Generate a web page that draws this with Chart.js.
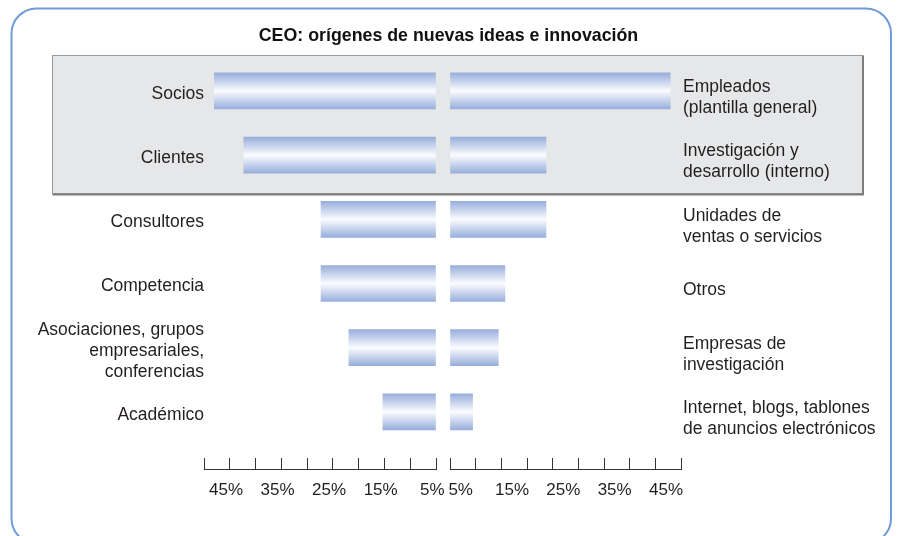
<!DOCTYPE html>
<html>
<head>
<meta charset="utf-8">
<script src="https://cdn.jsdelivr.net/npm/chart.js@4.4.1/dist/chart.umd.min.js"></script>
<style>
  html, body { margin: 0; padding: 0; background: #ffffff; }
  canvas { display: block; }
</style>
</head>
<body>
<canvas id="chart" width="897" height="536"></canvas>
<script>
// ---------- DATA ----------
const chartTitle = 'CEO: orígenes de nuevas ideas e innovación';
const leftCategories = [
  ['Socios'],
  ['Clientes'],
  ['Consultores'],
  ['Competencia'],
  ['Asociaciones, grupos', 'empresariales,', 'conferencias'],
  ['Académico']
];
const rightCategories = [
  ['Empleados', '(plantilla general)'],
  ['Investigación y', 'desarrollo (interno)'],
  ['Unidades de', 'ventas o servicios'],
  ['Otros'],
  ['Empresas de', 'investigación'],
  ['Internet, blogs, tablones', 'de anuncios electrónicos']
];
const leftValues = [43, 37.3, 22.3, 22.3, 16.9, 10.3];   // % (left side)
const rightValues = [42.9, 18.7, 18.7, 10.7, 9.4, 4.4];  // % (right side)
const tickLabelValues = [5, 15, 25, 35, 45];
const highlightedRows = [0, 1];

// ---------- STYLE ----------
const FONT = "'Liberation Sans', Arial, Helvetica, sans-serif";
const TEXT = '#231f20';
Chart.defaults.font.family = FONT;
Chart.defaults.color = TEXT;

function barGradient(ctx) {
  const flat = '#b9c8e8';
  if (ctx.type !== 'data') return flat;
  const chart = ctx.chart;
  const ds = ctx.dataset;
  const scale = chart.scales[ds.yAxisID];
  if (!scale) return flat;
  const yc = scale.getPixelForValue(ds.data[ctx.dataIndex].y);
  if (!isFinite(yc)) return flat;
  const h = ds.barThickness / 2;
  const g = chart.ctx.createLinearGradient(0, yc - h, 0, yc + h);
  g.addColorStop(0, '#98aedb');
  g.addColorStop(0.5, '#fbfcff');
  g.addColorStop(1, '#98aedb');
  return g;
}

function roundRectPath(c, x, y, w, h, r) {
  c.beginPath();
  c.moveTo(x + r, y);
  c.lineTo(x + w - r, y);
  c.arcTo(x + w, y, x + w, y + r, r);
  c.lineTo(x + w, y + h - r);
  c.arcTo(x + w, y + h, x + w - r, y + h, r);
  c.lineTo(x + r, y + h);
  c.arcTo(x, y + h, x, y + h - r, r);
  c.lineTo(x, y + r);
  c.arcTo(x, y, x + r, y, r);
  c.closePath();
}

const framePlugin = {
  id: 'frame',
  beforeDraw(chart, args, opts) {
    const c = chart.ctx;
    c.save();
    c.fillStyle = '#ffffff';
    c.fillRect(0, 0, chart.width, chart.height);
    // outer rounded frame
    roundRectPath(c, opts.frame.x, opts.frame.y, opts.frame.w, opts.frame.h, opts.frame.r);
    c.strokeStyle = opts.frame.color;
    c.lineWidth = 2;
    c.stroke();
    // grey highlight band behind the first rows
    const ys = chart.scales.yL;
    const top = Math.round(ys.getPixelForValue(highlightedRows[0]) - opts.band.padTop) + 0.5;
    const bottom = Math.round(ys.getPixelForValue(highlightedRows[highlightedRows.length - 1]) + opts.band.padBottom) + 0.5;
    const left = opts.band.left + 0.5, right = opts.band.right + 0.5;
    c.fillStyle = '#e6e7e8';
    c.fillRect(left, top, right - left, bottom - top);
    c.strokeStyle = '#9b9b9b';
    c.lineWidth = 1;
    c.strokeRect(left, top, right - left, bottom - top);
    c.strokeStyle = '#7d7d7d';
    c.lineWidth = 2;
    c.beginPath();
    c.moveTo(right + 0.5, top);
    c.lineTo(right + 0.5, bottom + 1);
    c.lineTo(left, bottom + 1);
    c.stroke();
    c.restore();
  }
};

const xCommon = (weight, reverse, labelOffset) => ({
  type: 'linear',
  position: 'bottom',
  stack: 'x',
  stackWeight: weight,
  min: 0,
  max: 45,
  reverse: reverse,
  afterFit: s => { s.height = 55; },
  grid: { drawOnChartArea: false, drawTicks: true, tickLength: -11, color: '#333333', lineWidth: 1 },
  border: { display: true, color: '#333333', width: 1 },
  ticks: {
    stepSize: 5,
    autoSkip: false,
    maxRotation: 0,
    padding: 22.5,
    labelOffset: labelOffset,
    color: TEXT,
    font: { size: 17 },
    callback: v => tickLabelValues.includes(v) ? v + '%' : ''
  }
});

const yCommon = (position, width, padding, labelOffset, labels) => ({
  type: 'linear',
  position: position,
  min: -0.5,
  max: 5.89,
  reverse: true,
  offset: false,
  afterFit: s => { s.width = width; },
  grid: { display: false, drawTicks: false },
  border: { display: false },
  ticks: {
    stepSize: 1,
    includeBounds: false,
    autoSkip: false,
    padding: padding,
    labelOffset: labelOffset,
    color: TEXT,
    font: { size: 17.5, lineHeight: 1.2 },
    callback: v => labels[v]
  }
});

new Chart(document.getElementById('chart'), {
  type: 'bar',
  data: {
    datasets: [
      {
        label: 'izquierda',
        data: leftValues.map((v, i) => ({ x: v, y: i })),
        xAxisID: 'xL',
        yAxisID: 'yL',
        barThickness: 36,
        grouped: false,
        borderWidth: 0,
        backgroundColor: barGradient
      },
      {
        label: 'derecha',
        data: rightValues.map((v, i) => ({ x: v, y: i })),
        xAxisID: 'xR',
        yAxisID: 'yR',
        barThickness: 36,
        grouped: false,
        borderWidth: 0,
        backgroundColor: barGradient
      }
    ]
  },
  options: {
    indexAxis: 'y',
    responsive: false,
    animation: false,
    devicePixelRatio: 1,
    layout: { padding: { left: 0, right: 0, top: 0, bottom: 12 } },
    scales: {
      xL: xCommon(232, true, 22),
      xGap: { type: 'linear', position: 'bottom', stack: 'x', stackWeight: 14, display: false },
      xR: xCommon(231, false, -15),
      yL: yCommon('left', 204, 0, 3, leftCategories),
      yR: yCommon('right', 216, 2, 7, rightCategories)
    },
    plugins: {
      legend: { display: false },
      tooltip: { enabled: false },
      title: {
        display: true,
        text: chartTitle,
        color: '#111111',
        font: { size: 17.8, weight: 'bold', lineHeight: 1.2 },
        padding: { top: 25, bottom: 12.5 }
      },
      frame: {
        frame: { x: 11.5, y: 8.5, w: 879.5, h: 535, r: 25, color: '#6f9bd6' },
        band: { left: 52, right: 862, padTop: 36, padBottom: 38 }
      }
    }
  },
  plugins: [framePlugin]
});
</script>
</body>
</html>
